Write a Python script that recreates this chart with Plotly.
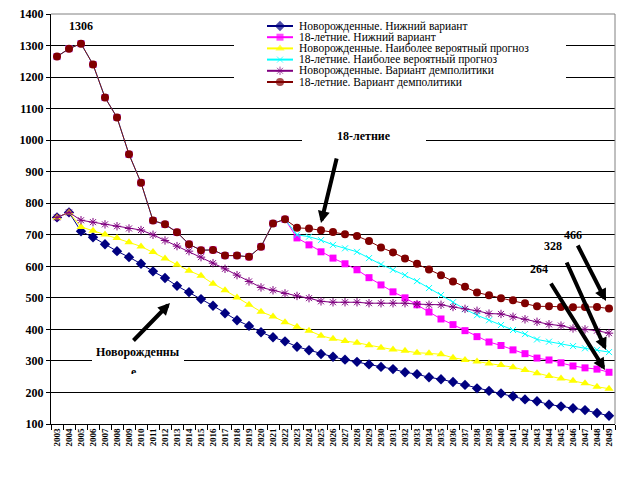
import plotly.graph_objects as go

years = ["2003","2004","2005","2006","2007","2008","2009","2010","2011","2012",
         "2013","2014","2015","2016","2017","2018","2019","2020","2021","2022",
         "2023","2024","2025","2026","2027","2028","2029","2030","2031","2032",
         "2033","2034","2035","2036","2037","2038","2039","2040","2041","2042",
         "2043","2044","2045","2046","2047","2048","2049"]

# 18-year-olds, common part 2003-2022
teen_common = [1265, 1290, 1306, 1240, 1135, 1072, 955, 865, 745, 733,
               708, 670, 651, 652, 634, 634, 630, 662, 736, 749]

newborn_low = [755, 771, 711, 692, 670, 648, 629, 608, 584, 563, 538, 518, 496, 475, 451, 429,
               411, 391, 375, 362, 345, 334, 322, 313, 304, 297, 289, 281, 274, 264, 258, 248,
               242, 233, 224, 213, 205, 197, 188, 178, 172, 162, 156, 150, 144, 135, 126]
teen_low = teen_common + [690, 668, 646, 626, 608, 589, 564, 541, 519, 500, 478, 455, 433, 415,
                          396, 377, 360, 349, 335, 323, 309, 303, 294, 284, 278, 274, 264]
newborn_prob = [755, 771, 725, 713, 701, 690, 676, 663, 645, 625, 605, 586, 570, 545, 524, 501,
                478, 456, 441, 423, 408, 396, 380, 370, 363, 358, 350, 342, 336, 332, 326, 324,
                321, 310, 303, 298, 292, 287, 280, 271, 261, 252, 244, 237, 229, 218, 212]
teen_prob = teen_common + [700, 694, 683, 668, 657, 646, 626, 606, 589, 572, 553, 531, 509, 486,
                           464, 445, 429, 414, 398, 385, 368, 361, 353, 347, 340, 335, 328]
newborn_dem = [755, 771, 746, 740, 733, 727, 720, 715, 700, 682, 664, 648, 629, 610, 592, 572,
               552, 533, 524, 514, 506, 499, 489, 486, 486, 486, 483, 483, 483, 483, 480, 478,
               478, 471, 465, 459, 450, 449, 440, 432, 424, 416, 412, 403, 400, 396, 388]
teen_dem = teen_common + [722, 720, 714, 709, 702, 696, 680, 660, 644, 625, 608, 590, 572, 552,
                          535, 517, 508, 499, 492, 483, 473, 473, 471, 470, 471, 471, 466]

names = ["Новорожденные. Нижний вариант",
         "18-летние. Нижний вариант",
         "Новорожденные. Наиболее вероятный прогноз",
         "18-летние. Наиболее вероятный прогноз",
         "Новорожденные. Вариант демполитики",
         "18-летние. Вариант демполитики"]
series = [newborn_low, teen_low, newborn_prob, teen_prob, newborn_dem, teen_dem]
colors = ["#000080", "#FF00FF", "#FFFF00", "#00FFFF", "#800080", "#800000"]
symbols = ["diamond", "square", "triangle-up", "x-thin", "asterisk", "circle"]
sizes = [8, 7, 8, 6, 7, 8]

SERIF = "Liberation Serif"

# plot-area geometry (pixels)
L, R, T, B = 51, 615, 14, 424
NCAT = len(years)
YMIN, YMAX = 100, 1400


def px2x(px):
    return (px - L) / (R - L) * NCAT - 0.5


def px2y(py):
    return YMIN + (B - py) / (B - T) * (YMAX - YMIN)


fig = go.Figure()
for name, vals, c, s, sz in zip(names, series, colors, symbols, sizes):
    open_sym = s in ("x-thin", "asterisk")
    fig.add_trace(go.Scatter(
        x=years, y=vals, mode="lines+markers", name=name, showlegend=False,
        line=dict(color=c, width=1),
        marker=dict(symbol=s, size=sz, color=c,
                    line=dict(color=c, width=1 if open_sym else 0)),
    ))

# manual legend (pixel coordinates on an invisible overlay axis)
leg_y0, leg_dy = 26, 11.2
for i, (name, c, s, sz) in enumerate(zip(names, colors, symbols, sizes)):
    yy = leg_y0 + leg_dy * i
    open_sym = s in ("x-thin", "asterisk")
    fig.add_trace(go.Scatter(
        x=[267, 280, 293], y=[yy, yy, yy], xaxis="x2", yaxis="y2",
        mode="lines+markers", showlegend=False, hoverinfo="skip",
        line=dict(color=c, width=2),
        marker=dict(symbol=s, size=[0, sz, 0], color=c,
                    line=dict(color=c, width=1 if open_sym else 0)),
    ))
    fig.add_annotation(x=297, y=yy, xref="x2", yref="y2", text=name, showarrow=False,
                       xanchor="left", yanchor="middle",
                       font=dict(family=SERIF, size=11.5, color="black"))


def white_rect(x0, x1, y0, y1):
    return dict(type="rect", xref="x", yref="y", x0=px2x(x0), x1=px2x(x1),
                y0=px2y(y1), y1=px2y(y0), fillcolor="white", line=dict(width=0),
                layer="between")


shapes = [
    # white patches hiding gridlines behind text boxes
    white_rect(234, 566, 17, 90),
    white_rect(302, 426, 128, 146),
    white_rect(92, 184, 343, 372),
    # grey top and right border
    dict(type="line", xref="paper", yref="paper", x0=0, x1=1, y0=1, y1=1,
         line=dict(color="#808080", width=1)),
    dict(type="line", xref="paper", yref="paper", x0=1, x1=1, y0=0, y1=1,
         line=dict(color="#808080", width=1)),
]

bold = dict(family=SERIF, size=12, color="black", weight="bold")
texts = [("1306", 81, 26), ("18-летние", 364, 136), ("Новорожденны", 138, 352),
         ("466", 573, 235), ("328", 553, 246), ("264", 539, 269)]
for t, x, y in texts:
    fig.add_annotation(x=x, y=y, xref="x2", yref="y2", text=t, showarrow=False,
                       font=bold)
# clipped wrapped letter
fig.add_annotation(x=134, y=364, xref="x2", yref="y2", text="е", showarrow=False,
                   xanchor="center", yanchor="top", valign="top", height=9,
                   font=bold, borderpad=0)

arrows = [((321, 223), (337, 157)),
          ((170, 303), (132, 342)),
          ((606, 301), (577, 244)),
          ((606, 350), (566, 261)),
          ((605, 370), (550, 282))]
for (hx, hy), (tx, ty) in arrows:
    fig.add_annotation(x=hx, y=hy, xref="x2", yref="y2", ax=tx, ay=ty,
                       axref="x2", ayref="y2", text="", showarrow=True,
                       arrowhead=2, arrowwidth=4, arrowsize=0.6,
                       arrowcolor="black", standoff=0)

fig.update_layout(
    width=629, height=496,
    margin=dict(l=L, r=629 - R, t=T, b=496 - B, autoexpand=False),
    paper_bgcolor="white", plot_bgcolor="white",
    shapes=shapes,
    xaxis=dict(type="category", range=[-0.5, NCAT - 0.5], dtick=1, automargin=False,
               tickson="boundaries", ticks="outside", ticklen=5,
               tickcolor="black", showline=True, linecolor="black", linewidth=1,
               showgrid=False, tickangle=-90,
               tickfont=dict(family=SERIF, size=9, color="black", weight="bold")),
    yaxis=dict(range=[YMIN, YMAX], dtick=100, ticks="outside", ticklen=4, automargin=False,
               tickcolor="black", showline=True, linecolor="black", linewidth=1,
               showgrid=True, gridcolor="black", gridwidth=1, zeroline=False,
               tickfont=dict(family=SERIF, size=12, color="black", weight="bold")),
    xaxis2=dict(overlaying="x", range=[L, R], visible=False, automargin=False),
    yaxis2=dict(overlaying="y", range=[B, T], visible=False, automargin=False),
)

fig.write_html("out.html")
